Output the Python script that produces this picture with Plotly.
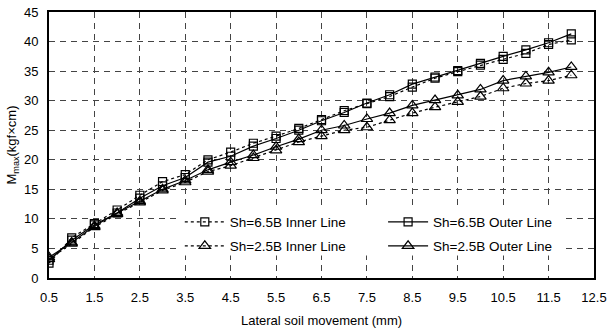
import plotly.graph_objects as go

x_vals = [0.5, 1.0, 1.5, 2.0, 2.5, 3.0, 3.5, 4.0, 4.5, 5.0, 5.5, 6.0,
          6.5, 7.0, 7.5, 8.0, 8.5, 9.0, 9.5, 10.0, 10.5, 11.0, 11.5, 12.0]

sh65_inner = [2.5, 6.8, 9.2, 11.5, 14.0, 16.3, 17.5, 20.0, 21.3, 22.8, 24.0, 25.3,
              26.8, 28.3, 29.5, 30.7, 32.3, 33.8, 34.9, 36.0, 37.0, 38.0, 39.5, 40.3]
sh65_outer = [3.0, 6.4, 9.0, 11.0, 13.5, 15.6, 17.0, 19.6, 20.6, 22.3, 23.6, 25.0,
              26.6, 28.0, 29.6, 31.0, 32.8, 34.0, 35.1, 36.3, 37.5, 38.6, 39.8, 41.3]
sh25_inner = [3.2, 5.8, 8.6, 10.8, 12.8, 14.8, 16.2, 18.0, 19.0, 20.3, 21.6, 23.0,
              24.0, 25.0, 25.5, 26.7, 27.9, 28.9, 29.8, 30.7, 32.1, 32.9, 33.4, 34.3]
sh25_outer = [3.5, 6.0, 8.8, 11.0, 13.0, 15.0, 16.5, 18.3, 19.6, 20.8, 22.2, 23.5,
              25.0, 25.8, 26.9, 27.9, 29.2, 30.1, 30.9, 31.9, 33.4, 34.1, 34.8, 35.7]

series_names = ["Sh=6.5B Inner Line", "Sh=6.5B Outer Line",
                "Sh=2.5B Inner Line", "Sh=2.5B Outer Line"]

x_ticks = [0.5, 1.5, 2.5, 3.5, 4.5, 5.5, 6.5, 7.5, 8.5, 9.5, 10.5, 11.5, 12.5]
x_tick_labels = ["0.5", "1.5", "2.5", "3.5", "4.5", "5.5", "6.5", "7.5", "8.5",
                 "9.5", "10.5", "11.5", "12.5"]
y_ticks = [0, 5, 10, 15, 20, 25, 30, 35, 40, 45]

FONT = "Liberation Sans, Arial, sans-serif"

fig = go.Figure()
styles = [
    (sh65_inner, "dot", "square-open", 8, "legend"),
    (sh65_outer, "solid", "square-open", 8, "legend2"),
    (sh25_inner, "dot", "triangle-up-open", 10, "legend3"),
    (sh25_outer, "solid", "triangle-up-open", 10, "legend4"),
]
for name, (ys, dash, sym, sz, lg) in zip(series_names, styles):
    fig.add_trace(go.Scatter(
        x=x_vals, y=ys, name=name, mode="lines+markers", legend=lg,
        line=dict(color="black", width=1.2, dash=dash),
        marker=dict(symbol=sym, size=sz, color="black", line=dict(width=1.2, color="black")),
    ))

# white box behind the legend (hides gridlines there)
fig.add_shape(type="rect", xref="paper", yref="paper",
              x0=0.235, x1=0.94, y0=0.085, y1=0.27,
              fillcolor="white", line=dict(width=0), layer="above")

leg_common = dict(bgcolor="rgba(0,0,0,0)", borderwidth=0, xanchor="left", yanchor="middle",
                  font=dict(family=FONT, size=13.5, color="black"), itemwidth=40)
col1, col2 = 0.24, 0.613
row1, row2 = 0.21, 0.12

fig.update_layout(
    width=611, height=334,
    margin=dict(l=49, r=17, t=12, b=56, autoexpand=False),
    paper_bgcolor="white", plot_bgcolor="white",
    font=dict(family=FONT, size=12, color="black"),
    showlegend=True,
    legend=dict(x=col1, y=row1, **leg_common),
    legend2=dict(x=col2, y=row1, **leg_common),
    legend3=dict(x=col1, y=row2, **leg_common),
    legend4=dict(x=col2, y=row2, **leg_common),
    xaxis=dict(
        range=[0.5, 12.5], tickmode="array", tickvals=x_ticks, ticktext=x_tick_labels,
        showgrid=True, gridcolor="#444", griddash="6px,5px", gridwidth=1,
        showline=True, linecolor="black", linewidth=2, mirror=True,
        ticks="", zeroline=False, ticklabelstandoff=6, automargin=False,
        tickfont=dict(size=13),
        title=dict(text="Lateral soil movement (mm)", font=dict(size=13), standoff=12),
    ),
    yaxis=dict(
        range=[0, 45], tickmode="array", tickvals=y_ticks,
        showgrid=True, gridcolor="#444", griddash="6px,5px", gridwidth=1,
        showline=True, linecolor="black", linewidth=2, mirror=True,
        ticks="", zeroline=False, ticklabelstandoff=6, automargin=False,
        tickfont=dict(size=13),
        title=dict(text="M<sub>max</sub>(kgf×cm)", font=dict(size=13), standoff=4),
    ),
)

fig.write_html("out.html")
